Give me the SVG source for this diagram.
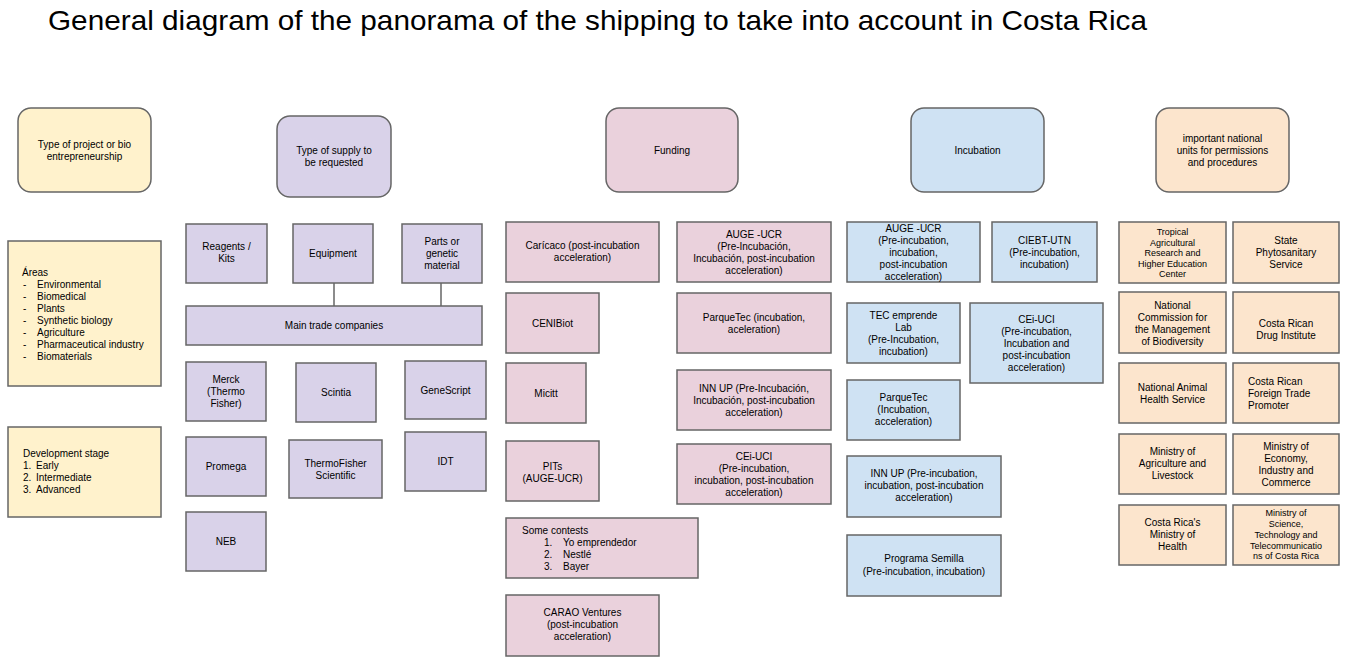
<svg xmlns="http://www.w3.org/2000/svg" width="1351" height="671" viewBox="0 0 1351 671">
<style>
text{font-family:"Liberation Sans",Arial,sans-serif;font-size:10px;fill:#000}
.c{text-anchor:middle}
.s9{font-size:9px}
.title{font-size:28px}
rect{stroke:#666;stroke-width:1.5}
rect.bg{stroke:none;fill:#fff}
.y{fill:#fff2cc}.p{fill:#d9d2e9}.k{fill:#ead1dc}.b{fill:#cfe2f3}.o{fill:#fce5cd}
.conn line{stroke:#666;stroke-width:1.5}
</style>
<rect class="bg" width="1351" height="671"/>
<text class="title" x="48" y="30" textLength="1099" lengthAdjust="spacingAndGlyphs">General diagram of the panorama of the shipping to take into account in Costa Rica</text>

<g class="conn" id="connectors">
<line x1="334" y1="283" x2="334" y2="306"/>
<line x1="441" y1="283" x2="441" y2="306"/>
</g>

<g id="h-project"><rect class="y" x="18" y="108" width="133" height="84" rx="13"/>
<text class="c" x="84.5" y="148">Type of project or bio</text><text class="c" x="84.5" y="160">entrepreneurship</text></g>
<g id="areas"><rect class="y" x="8" y="241" width="153" height="145"/>
<text x="22" y="276">Áreas</text>
<text x="23" y="288">-</text><text x="37" y="288">Environmental</text>
<text x="23" y="300">-</text><text x="37" y="300">Biomedical</text>
<text x="23" y="312">-</text><text x="37" y="312">Plants</text>
<text x="23" y="324">-</text><text x="37" y="324">Synthetic biology</text>
<text x="23" y="336">-</text><text x="37" y="336">Agriculture</text>
<text x="23" y="348">-</text><text x="37" y="348">Pharmaceutical industry</text>
<text x="23" y="360">-</text><text x="37" y="360">Biomaterials</text></g>
<g id="stage"><rect class="y" x="8" y="427" width="153" height="90"/>
<text x="23" y="457">Development stage</text>
<text x="23" y="469">1.</text><text x="36" y="469">Early</text>
<text x="23" y="481">2.</text><text x="36" y="481">Intermediate</text>
<text x="23" y="493">3.</text><text x="36" y="493">Advanced</text></g>

<g id="h-supply"><rect class="p" x="277" y="116" width="114" height="81" rx="13"/>
<text class="c" x="334" y="154">Type of supply to</text><text class="c" x="334" y="166">be requested</text></g>
<g id="reagents"><rect class="p" x="186" y="224" width="81" height="59"/>
<text class="c" x="226.5" y="250">Reagents /</text><text class="c" x="226.5" y="262">Kits</text></g>
<g id="equipment"><rect class="p" x="293" y="224" width="80" height="59"/>
<text class="c" x="333" y="257">Equipment</text></g>
<g id="parts"><rect class="p" x="402" y="224" width="80" height="59"/>
<text class="c" x="442" y="245">Parts or</text><text class="c" x="442" y="257">genetic</text><text class="c" x="442" y="269">material</text></g>
<g id="main-trade"><rect class="p" x="186" y="306" width="296" height="39"/>
<text class="c" x="334" y="329">Main trade companies</text></g>
<g id="merck"><rect class="p" x="186" y="362" width="80" height="59"/>
<text class="c" x="226" y="383">Merck</text><text class="c" x="226" y="395">(Thermo</text><text class="c" x="226" y="407">Fisher)</text></g>
<g id="scintia"><rect class="p" x="296" y="363" width="80" height="59"/>
<text class="c" x="336" y="396">Scintia</text></g>
<g id="genescript"><rect class="p" x="405" y="361" width="81" height="58"/>
<text class="c" x="445.5" y="394">GeneScript</text></g>
<g id="promega"><rect class="p" x="186" y="437" width="80" height="59"/>
<text class="c" x="226" y="470">Promega</text></g>
<g id="thermofisher"><rect class="p" x="289" y="440" width="93" height="58"/>
<text class="c" x="335.5" y="467">ThermoFisher</text><text class="c" x="335.5" y="479">Scientific</text></g>
<g id="idt"><rect class="p" x="405" y="432" width="81" height="59"/>
<text class="c" x="445.5" y="465">IDT</text></g>
<g id="neb"><rect class="p" x="186" y="512" width="80" height="59"/>
<text class="c" x="226" y="545">NEB</text></g>

<g id="h-funding"><rect class="k" x="606" y="108" width="132" height="84" rx="13"/>
<text class="c" x="672" y="154">Funding</text></g>
<g id="caricaco"><rect class="k" x="506" y="222" width="153" height="60"/>
<text class="c" x="582.5" y="249">Carícaco (post-incubation</text><text class="c" x="582.5" y="261">acceleration)</text></g>
<g id="auge-f"><rect class="k" x="677" y="222" width="154" height="60"/>
<text class="c" x="754" y="238">AUGE -UCR</text><text class="c" x="754" y="250">(Pre-Incubación,</text><text class="c" x="754" y="262">Incubación, post-incubation</text><text class="c" x="754" y="274">acceleration)</text></g>
<g id="cenibiot"><rect class="k" x="506" y="293" width="93" height="60"/>
<text class="c" x="552.5" y="327">CENIBiot</text></g>
<g id="parquetec-f"><rect class="k" x="677" y="293" width="154" height="60"/>
<text class="c" x="754" y="321">ParqueTec (incubation,</text><text class="c" x="754" y="333">aceleration)</text></g>
<g id="micitt"><rect class="k" x="506" y="363" width="80" height="60"/>
<text class="c" x="546" y="397">Micitt</text></g>
<g id="innup-f"><rect class="k" x="677" y="370" width="154" height="60"/>
<text class="c" x="754" y="392">INN UP (Pre-Incubación,</text><text class="c" x="754" y="404">Incubación, post-incubation</text><text class="c" x="754" y="416">acceleration)</text></g>
<g id="pits"><rect class="k" x="506" y="441" width="93" height="60"/>
<text class="c" x="552.5" y="470">PITs</text><text class="c" x="552.5" y="482">(AUGE-UCR)</text></g>
<g id="cei-f"><rect class="k" x="677" y="444" width="154" height="60"/>
<text class="c" x="754" y="460">CEi-UCI</text><text class="c" x="754" y="472">(Pre-incubation,</text><text class="c" x="754" y="484">incubation, post-incubation</text><text class="c" x="754" y="496">acceleration)</text></g>
<g id="contests"><rect class="k" x="506" y="518" width="192" height="60"/>
<text x="522" y="534">Some contests</text>
<text x="544" y="546">1.</text><text x="563" y="546">Yo emprendedor</text>
<text x="544" y="558">2.</text><text x="563" y="558">Nestlé</text>
<text x="544" y="570">3.</text><text x="563" y="570">Bayer</text></g>
<g id="carao"><rect class="k" x="506" y="595" width="153" height="61"/>
<text class="c" x="582.5" y="616">CARAO Ventures</text><text class="c" x="582.5" y="628">(post-incubation</text><text class="c" x="582.5" y="640">acceleration)</text></g>

<g id="h-incubation"><rect class="b" x="911" y="108" width="133" height="84" rx="13"/>
<text class="c" x="977.5" y="154">Incubation</text></g>
<g id="auge-i"><rect class="b" x="847" y="222" width="133" height="60"/>
<text class="c" x="913.5" y="232">AUGE -UCR</text><text class="c" x="913.5" y="244">(Pre-incubation,</text><text class="c" x="913.5" y="256">incubation,</text><text class="c" x="913.5" y="268">post-incubation</text><text class="c" x="913.5" y="280">acceleration)</text></g>
<g id="ciebt"><rect class="b" x="992" y="222" width="105" height="60"/>
<text class="c" x="1044.5" y="244">CIEBT-UTN</text><text class="c" x="1044.5" y="256">(Pre-incubation,</text><text class="c" x="1044.5" y="268">incubation)</text></g>
<g id="tec"><rect class="b" x="847" y="303" width="113" height="60"/>
<text class="c" x="903.5" y="319">TEC emprende</text><text class="c" x="903.5" y="331">Lab</text><text class="c" x="903.5" y="343">(Pre-Incubation,</text><text class="c" x="903.5" y="355">incubation)</text></g>
<g id="cei-i"><rect class="b" x="970" y="303" width="133" height="80"/>
<text class="c" x="1036.5" y="323">CEi-UCI</text><text class="c" x="1036.5" y="335">(Pre-incubation,</text><text class="c" x="1036.5" y="347">Incubation and</text><text class="c" x="1036.5" y="359">post-incubation</text><text class="c" x="1036.5" y="371">acceleration)</text></g>
<g id="parquetec-i"><rect class="b" x="847" y="380" width="113" height="60"/>
<text class="c" x="903.5" y="401">ParqueTec</text><text class="c" x="903.5" y="413">(Incubation,</text><text class="c" x="903.5" y="425">acceleration)</text></g>
<g id="innup-i"><rect class="b" x="847" y="456" width="154" height="61"/>
<text class="c" x="924" y="477">INN UP (Pre-incubation,</text><text class="c" x="924" y="489">incubation, post-incubation</text><text class="c" x="924" y="501">acceleration)</text></g>
<g id="semilla"><rect class="b" x="847" y="535" width="154" height="61"/>
<text class="c" x="924" y="562">Programa Semilla</text><text class="c" x="924" y="575">(Pre-incubation, incubation)</text></g>

<g id="h-national"><rect class="o" x="1156" y="108" width="133" height="84" rx="13"/>
<text class="c" x="1222.5" y="142">important national</text><text class="c" x="1222.5" y="154">units for permissions</text><text class="c" x="1222.5" y="166">and procedures</text></g>
<g id="catie"><rect class="o" x="1119" y="222" width="107" height="61"/>
<text class="c s9" x="1172.5" y="235">Tropical</text><text class="c s9" x="1172.5" y="245.5">Agricultural</text><text class="c s9" x="1172.5" y="256">Research and</text><text class="c s9" x="1172.5" y="266.5">Higher Education</text><text class="c s9" x="1172.5" y="277">Center</text></g>
<g id="sfe"><rect class="o" x="1233" y="222" width="106" height="61"/>
<text class="c" x="1286" y="244">State</text><text class="c" x="1286" y="256">Phytosanitary</text><text class="c" x="1286" y="268">Service</text></g>
<g id="conagebio"><rect class="o" x="1119" y="292" width="107" height="61"/>
<text class="c" x="1172.5" y="309">National</text><text class="c" x="1172.5" y="321">Commission for</text><text class="c" x="1172.5" y="333">the Management</text><text class="c" x="1172.5" y="345">of Biodiversity</text></g>
<g id="icd"><rect class="o" x="1233" y="292" width="106" height="61"/>
<text class="c" x="1286" y="327">Costa Rican</text><text class="c" x="1286" y="339">Drug Institute</text></g>
<g id="senasa"><rect class="o" x="1119" y="363" width="107" height="60"/>
<text class="c" x="1172.5" y="391">National Animal</text><text class="c" x="1172.5" y="403">Health Service</text></g>
<g id="procomer"><rect class="o" x="1233" y="363" width="106" height="60"/>
<text x="1248" y="385">Costa Rican</text><text x="1248" y="397">Foreign Trade</text><text x="1248" y="409">Promoter</text></g>
<g id="mag"><rect class="o" x="1119" y="434" width="107" height="60"/>
<text class="c" x="1172.5" y="455">Ministry of</text><text class="c" x="1172.5" y="467">Agriculture and</text><text class="c" x="1172.5" y="479">Livestock</text></g>
<g id="meic"><rect class="o" x="1233" y="434" width="106" height="60"/>
<text class="c" x="1286" y="450">Ministry of</text><text class="c" x="1286" y="462">Economy,</text><text class="c" x="1286" y="474">Industry and</text><text class="c" x="1286" y="486">Commerce</text></g>
<g id="health"><rect class="o" x="1119" y="505" width="107" height="60"/>
<text class="c" x="1172.5" y="526">Costa Rica's</text><text class="c" x="1172.5" y="538">Ministry of</text><text class="c" x="1172.5" y="550">Health</text></g>
<g id="micitt-n"><rect class="o" x="1233" y="505" width="106" height="60"/>
<text class="c s9" x="1286" y="516">Ministry of</text><text class="c s9" x="1286" y="527">Science,</text><text class="c s9" x="1286" y="538">Technology and</text><text class="c s9" x="1286" y="548.5">Telecommunicatio</text><text class="c s9" x="1286" y="559">ns of Costa Rica</text></g>
</svg>
